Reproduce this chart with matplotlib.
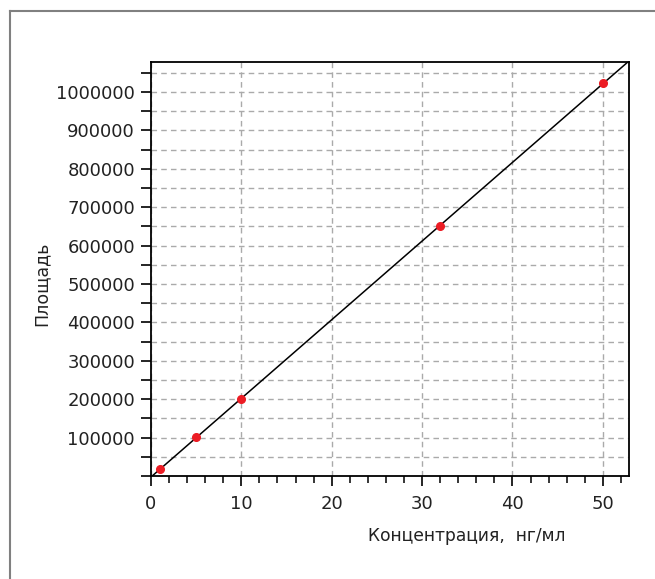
import numpy as np
import matplotlib.pyplot as plt
from matplotlib.ticker import MultipleLocator, FormatStrFormatter
from matplotlib.lines import Line2D

# Calibration data
concentration = [1, 5, 10, 32, 50]
area = [19500, 101000, 199500, 650500, 1023000]

x_label = 'Концентрация,  нг/мл'
y_label = 'Площадь'

x_max = 52.9
y_max = 1078000

# Linear fit through the points
slope, intercept = np.polyfit(concentration, area, 1)
x_fit = np.array([0, x_max])
y_fit = slope * x_fit + intercept

plt.rcParams['font.family'] = ['DejaVu Sans']
text_col = '#222222'
fig = plt.figure(figsize=(6.55, 5.79), dpi=100)
ax = fig.add_axes([0.2305, 0.1779, 0.7298, 0.715])

ax.plot(x_fit, y_fit, color='black', lw=1.1, zorder=3)
ax.plot(concentration, area, 'o', color='#ec1c24', ms=5.5, zorder=4)

ax.set_xlim(0, x_max)
ax.set_ylim(0, y_max)

ax.xaxis.set_major_locator(MultipleLocator(10))
ax.xaxis.set_minor_locator(MultipleLocator(2))
ax.set_yticks(np.arange(100000, 1000001, 100000))
ax.yaxis.set_minor_locator(MultipleLocator(50000))
ax.yaxis.set_major_formatter(FormatStrFormatter('%d'))

ax.grid(True, which='major', axis='x', ls=(0, (4, 3)), color='#aaaaaa', lw=1)
ax.grid(True, which='both', axis='y', ls=(0, (4, 3)), color='#aaaaaa', lw=1)
ax.set_axisbelow(True)

ax.tick_params(which='major', direction='out', length=7, width=1.2,
               labelsize=13, labelcolor=text_col)
ax.tick_params(axis='x', which='major', pad=7)
ax.tick_params(axis='y', which='major', pad=4.5)
ax.tick_params(axis='x', which='minor', direction='out', length=5, width=1.1)
ax.tick_params(axis='y', which='minor', direction='out', length=7, width=1.2)
for s in ax.spines.values():
    s.set_linewidth(1.3)

ax.set_xlabel(x_label, fontsize=12.3, color=text_col)
ax.xaxis.set_label_coords(0.66, -0.122)
ax.set_ylabel(y_label, fontsize=12.5, color=text_col)
ax.yaxis.set_label_coords(-0.21, 0.465)

# top/left frame lines of the figure
fig.add_artist(Line2D([9.5 / 655, 1], [1 - 10.5 / 579, 1 - 10.5 / 579], color='#808080', lw=1.5))
fig.add_artist(Line2D([9.5 / 655, 9.5 / 655], [0, 1 - 10.5 / 579], color='#808080', lw=1.5))

fig.savefig('out.png', dpi=100)
